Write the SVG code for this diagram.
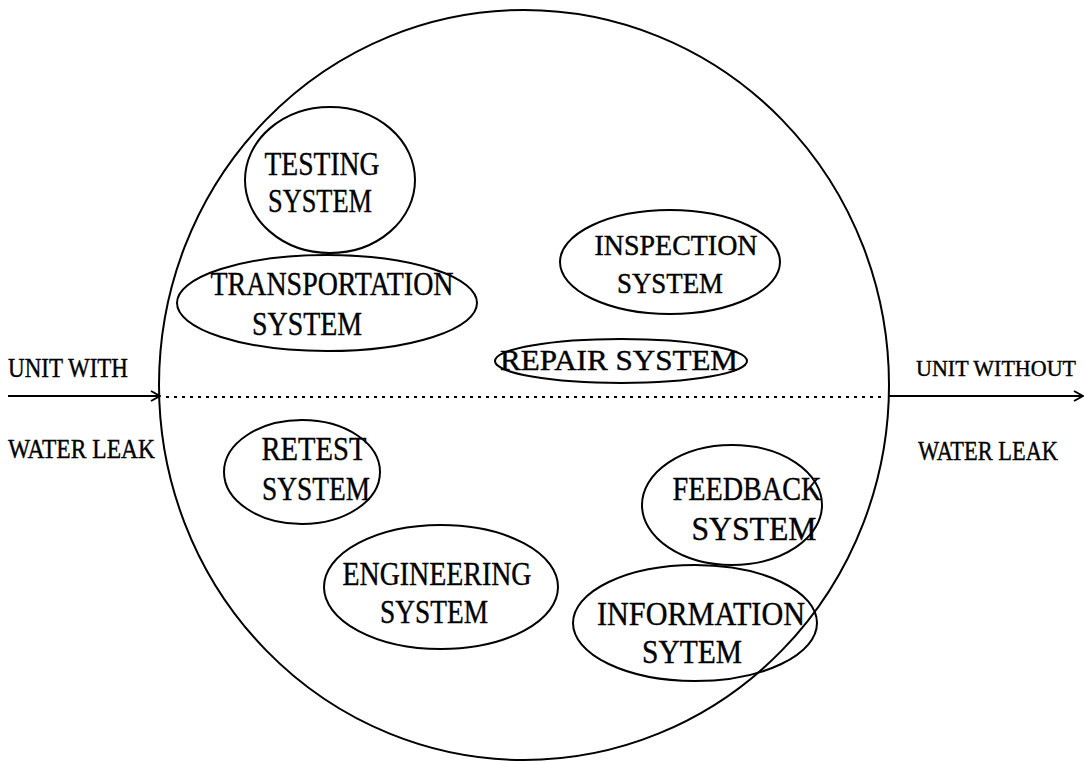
<svg xmlns="http://www.w3.org/2000/svg" width="1085" height="761" viewBox="0 0 1085 761">
<defs>
<style>
.shape{fill:none;stroke:#000;stroke-width:2}
text{font-family:"Liberation Serif","Times New Roman",serif;fill:#000;stroke:#000;stroke-width:0.4;text-anchor:middle}
.n{font-size:34px}
.s{font-size:30px}
.side{font-size:27px;text-anchor:start}
.con{stroke:#000;stroke-width:2;fill:none}
.dot{stroke:#000;stroke-width:2;stroke-dasharray:3 5;fill:none}
</style>
<marker id="arr" viewBox="0 0 12 12" refX="11" refY="6" markerWidth="12" markerHeight="12" markerUnits="userSpaceOnUse" orient="auto">
<path d="M2,1 L11,6 L2,11" fill="none" stroke="#000" stroke-width="2"/>
</marker>
</defs>
<rect width="1085" height="761" fill="#fff"/>
<g id="boundary">
<ellipse class="shape" cx="524" cy="385" rx="365" ry="375"/>
</g>
<g id="connectors">
<line class="con" x1="8" y1="396" x2="160" y2="396" marker-end="url(#arr)"/>
<line class="dot" x1="166" y1="397" x2="884" y2="397"/>
<line class="con" x1="888" y1="396" x2="1083" y2="396" marker-end="url(#arr)"/>
</g>
<g id="input-label">
<text class="side" x="8" y="377" textLength="120" lengthAdjust="spacingAndGlyphs">UNIT WITH</text>
<text class="side" x="8" y="458" textLength="147" lengthAdjust="spacingAndGlyphs">WATER LEAK</text>
</g>
<g id="output-label">
<text class="side" x="916" y="376" style="font-size:23px" textLength="160" lengthAdjust="spacingAndGlyphs">UNIT WITHOUT</text>
<text class="side" x="918" y="460" textLength="140" lengthAdjust="spacingAndGlyphs">WATER LEAK</text>
</g>
<g id="testing">
<ellipse class="shape" cx="330" cy="180" rx="85" ry="73"/>
<text class="n" x="322" y="175" textLength="115" lengthAdjust="spacingAndGlyphs">TESTING</text>
<text class="n" x="320" y="212" textLength="104" lengthAdjust="spacingAndGlyphs">SYSTEM</text>
</g>
<g id="transportation">
<ellipse class="shape" cx="327" cy="303" rx="150" ry="48"/>
<text class="n" x="332" y="295" textLength="243" lengthAdjust="spacingAndGlyphs">TRANSPORTATION</text>
<text class="n" x="307" y="335" textLength="110" lengthAdjust="spacingAndGlyphs">SYSTEM</text>
</g>
<g id="inspection">
<ellipse class="shape" cx="670" cy="262" rx="110" ry="52"/>
<text class="s" x="676" y="255" textLength="163" lengthAdjust="spacingAndGlyphs">INSPECTION</text>
<text class="s" x="670" y="293" textLength="106" lengthAdjust="spacingAndGlyphs">SYSTEM</text>
</g>
<g id="repair">
<ellipse class="shape" cx="621" cy="361" rx="126" ry="22"/>
<text class="s" x="619" y="370" textLength="238" lengthAdjust="spacingAndGlyphs">REPAIR SYSTEM</text>
</g>
<g id="retest">
<ellipse class="shape" cx="302" cy="472" rx="78" ry="52"/>
<text class="n" x="314" y="460" textLength="105" lengthAdjust="spacingAndGlyphs">RETEST</text>
<text class="n" x="316" y="500" textLength="108" lengthAdjust="spacingAndGlyphs">SYSTEM</text>
</g>
<g id="engineering">
<ellipse class="shape" cx="441" cy="587" rx="117" ry="62"/>
<text class="n" x="437" y="585" textLength="189" lengthAdjust="spacingAndGlyphs">ENGINEERING</text>
<text class="n" x="434" y="623" textLength="108" lengthAdjust="spacingAndGlyphs">SYSTEM</text>
</g>
<g id="feedback">
<ellipse class="shape" cx="732" cy="505" rx="90" ry="60"/>
<text class="n" x="747" y="500" textLength="149" lengthAdjust="spacingAndGlyphs">FEEDBACK</text>
<text class="n" x="754" y="540" textLength="125" lengthAdjust="spacingAndGlyphs">SYSTEM</text>
</g>
<g id="information">
<ellipse class="shape" cx="695" cy="623" rx="122" ry="58"/>
<text class="n" x="701" y="625" textLength="208" lengthAdjust="spacingAndGlyphs">INFORMATION</text>
<text class="n" x="692" y="663" textLength="100" lengthAdjust="spacingAndGlyphs">SYTEM</text>
</g>
</svg>
